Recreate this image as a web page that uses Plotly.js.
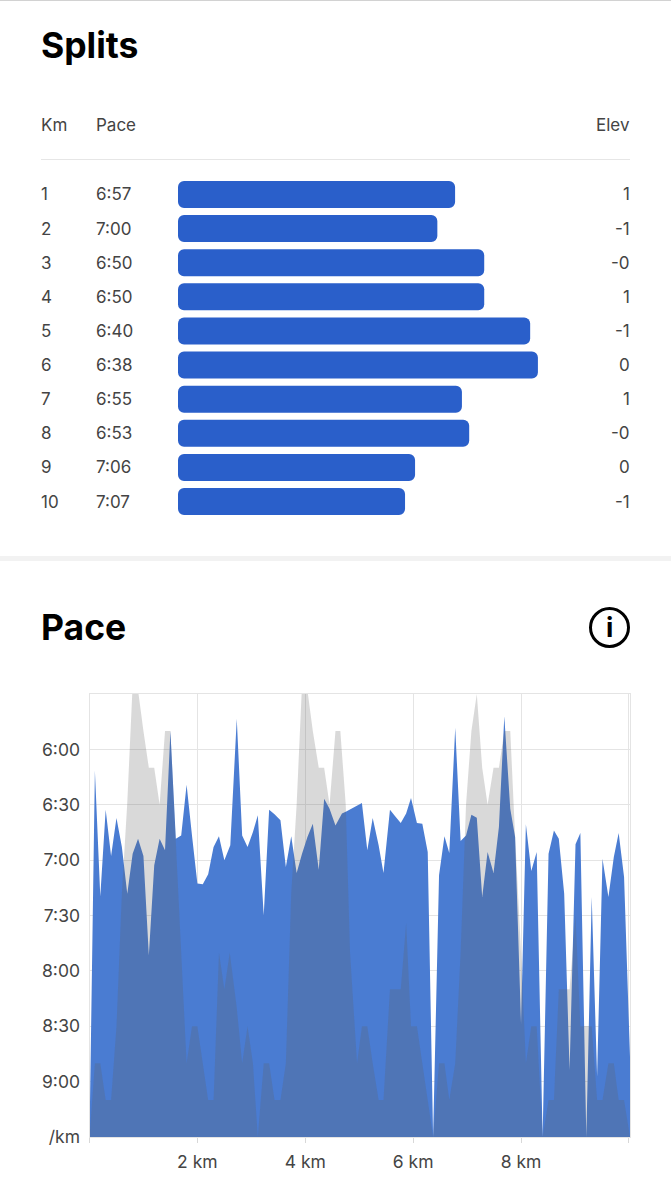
<!DOCTYPE html>
<html>
<head>
<meta charset="utf-8">
<script src="https://cdn.plot.ly/plotly-3.0.1.min.js"></script>
<style>html,body{margin:0;padding:0;background:#fff;overflow:hidden}#c{width:671px;height:1199px}</style>
</head>
<body>
<div id="c"></div>
<script>
// ---- Splits table ----
const splitKm = ['1','2','3','4','5','6','7','8','9','10'];
const splitPace = ['6:57','7:00','6:50','6:50','6:40','6:38','6:55','6:53','7:06','7:07'];
const splitElev = ['1','-1','-0','1','-1','0','1','-0','0','-1'];
// pace of each split in seconds per km
const splitSeconds = [416.1,420.0,409.7,409.7,399.6,397.9,414.6,413.0,424.9,427.1];

// ---- Pace chart ----
const paceKm = [0,.10,.20,.30,.40,.50,.60,.70,.80,.90,1.00,1.10,1.20,1.30,1.40,1.50,1.60,1.70,1.80,1.90,2.00,2.10,2.20,2.30,2.40,2.50,2.61,2.73,2.83,2.93,3.03,3.12,3.23,3.33,3.43,3.54,3.64,3.74,3.84,3.94,4.04,4.14,4.25,4.35,4.45,4.56,4.68,4.76,5.05,5.15,5.25,5.36,5.45,5.57,5.67,5.77,5.87,5.96,6.07,6.17,6.27,6.37,6.48,6.58,6.67,6.78,6.88,6.98,7.08,7.18,7.28,7.38,7.49,7.59,7.69,7.80,7.89,8.00,8.09,8.19,8.29,8.40,8.51,8.61,8.70,8.80,8.90,9.01,9.10,9.21,9.31,9.41,9.51,9.62,9.72,9.81,9.91,10.02,10.02];
const paceSec = [570,371.4,439.6,392.7,417.8,397.2,412.9,438.2,416.5,408.4,417.8,471.6,422.8,408.4,414.7,350.1,408.4,406.6,379.1,406.6,432.7,433.1,427.7,412.9,407.1,420.1,412,343.4,406.6,412.9,404.8,395.7,449.9,392.7,395.2,398.4,423.7,407.1,427,416.5,407.5,400.3,425.2,386.7,392.1,401.2,394.8,393.6,389.1,414.7,397.2,412,427,392.7,396.3,399.9,394.8,386.4,399.9,400.3,415.6,570,428.2,407.1,416.1,348.3,409.6,406.6,395.4,397,440,415.6,427,402,342.1,392.1,407.5,508.6,400.6,425.9,415.6,570,416.5,403.9,408.4,438.2,533.8,411.4,405.3,570,440,537.4,419.2,440,418.3,405.3,429.1,526.6,570];
const elevKm = [0,.10,.20,.30,.40,.50,.60,.70,.80,.90,1.00,1.10,1.20,1.30,1.40,1.50,1.60,1.70,1.80,1.90,2.00,2.10,2.20,2.30,2.40,2.50,2.60,2.73,2.83,2.93,3.03,3.12,3.23,3.33,3.43,3.54,3.64,3.74,3.84,3.94,4.04,4.14,4.25,4.35,4.45,4.56,4.65,4.75,4.83,4.96,5.05,5.15,5.25,5.36,5.45,5.57,5.67,5.77,5.87,5.96,6.07,6.17,6.27,6.37,6.48,6.58,6.67,6.78,6.88,6.98,7.08,7.18,7.28,7.38,7.49,7.59,7.69,7.80,7.89,8.00,8.09,8.19,8.29,8.40,8.51,8.61,8.70,8.80,8.90,9.01,9.10,9.21,9.31,9.41,9.51,9.62,9.72,9.81,9.91,10.02];
const elevLevel = [570,530,530,550,550,510,438,389,325,328,350,370,370,390,350,350,410,470,530,510,510,530,550,550,470,490,470,500,530,510,530,570,530,530,550,550,530,438,390,325,328,350,370,370,390,350,350,390,470,530,510,510,530,550,550,490,490,490,454,510,510,530,550,570,530,530,550,530,470,390,350,330,370,390,370,370,350,350,407,470,530,510,510,570,550,550,490,490,490,450,510,510,510,550,550,530,530,550,550,570];
const paceTickVals = [360,390,420,450,480,510,540,570];
const paceTickText = ['6:00','6:30','7:00','7:30','8:00','8:30','9:00','/km'];
const kmTickVals = [0,2,4,6,8,10];
const kmTickText = ['','2 km','4 km','6 km','8 km',''];

const W = 671, H = 1199;
const px = v => v / W, py = v => 1 - v / H;
const barBlue = '#2a5fca', txt = '#444444';
const tableFont = {family:'Inter, "Noto Sans", sans-serif', size:17, color:txt};
const titleFont = {family:'Inter, sans-serif', size:35.5, color:'#000'};
const tickFont = {family:'Inter, sans-serif', size:17.5, color:txt};

function note(text, x, y, anchor, font, yref) {
  return {text, x:px(x), xref:'paper', y, yref:yref||'paper', xanchor:anchor, yanchor:'middle', showarrow:false, font, borderpad:0};
}
const LEFT1 = 40, LEFT2 = 95, RIGHT = 630.5;
const annotations = [
  note('<b>Splits</b>', LEFT1, py(46), 'left', titleFont),
  note('<b>Pace</b>', LEFT1, py(627), 'left', titleFont),
  note('Km', LEFT1, py(125), 'left', tableFont),
  note('Pace', LEFT2, py(125), 'left', tableFont),
  note('Elev', RIGHT, py(125), 'right', tableFont),
  {text:'<b>i</b>', x:px(609.5), y:py(627.5), xref:'paper', yref:'paper', xanchor:'center', yanchor:'middle', showarrow:false,
   font:{family:'Inter, sans-serif', size:27, color:'#000'}}
];
splitKm.forEach((k,i) => {
  annotations.push(note(k, LEFT1, i+1, 'left', tableFont, 'y2'));
  annotations.push(note(splitPace[i], LEFT2, i+1, 'left', tableFont, 'y2'));
  annotations.push(note(splitElev[i], RIGHT, i+1, 'right', tableFont, 'y2'));
});

const shapes = [
  {type:'rect', xref:'paper', yref:'paper', x0:0, x1:1, y0:py(0), y1:py(1), fillcolor:'#d2d2d2', line:{width:0}},
  {type:'line', xref:'paper', yref:'paper', x0:px(41), x1:px(630), y0:py(159.5), y1:py(159.5), line:{color:'#e6e6e6', width:1}},
  {type:'rect', xref:'paper', yref:'paper', x0:0, x1:1, y0:py(556), y1:py(561), fillcolor:'#f2f2f2', line:{width:0}},
  {type:'circle', xref:'paper', yref:'paper', x0:px(590.5), x1:px(628.5), y0:py(646.5), y1:py(608.5), line:{color:'#000', width:3}}
];

const BASE = 477;
const rows = splitKm.map(Number);
const data = [
  {type:'scatter', x:paceKm, y:paceSec, mode:'lines', fill:'toself', fillcolor:'#4a7cd2', line:{width:0, simplify:false}, hoverinfo:'skip', showlegend:false, xaxis:'x', yaxis:'y'},
  {type:'scatter', x:elevKm, y:elevLevel, mode:'lines', fill:'toself', fillcolor:'rgba(95,95,95,0.24)', line:{width:0, simplify:false}, hoverinfo:'skip', showlegend:false, xaxis:'x', yaxis:'y'},
  {type:'bar', orientation:'h', x:splitSeconds.map(v => v - BASE), base:BASE, y:rows, marker:{color:barBlue, line:{width:0}}, hoverinfo:'skip', showlegend:false, xaxis:'x2', yaxis:'y2'}
];

const layout = {
  width:W, height:H, autosize:false, margin:{l:0,r:0,t:0,b:0,pad:0},
  paper_bgcolor:'#fff', plot_bgcolor:'#fff', showlegend:false,
  bargap:0.208, barcornerradius:6,
  xaxis:{domain:[px(89.5),px(630)], anchor:'y', range:[0,10.02], tickmode:'array', tickvals:kmTickVals, ticktext:kmTickText,
    ticks:'outside', ticklen:5, tickcolor:'#d8d8d8', tickwidth:1, showgrid:true, gridcolor:'#e4e4e4', zeroline:false,
    showline:true, linecolor:'#e4e4e4', mirror:true, tickfont:tickFont, ticklabelstandoff:4},
  yaxis:{domain:[py(1137),py(694)], anchor:'x', range:[570,330], tickmode:'array', tickvals:paceTickVals, ticktext:paceTickText,
    ticks:'', showgrid:true, gridcolor:'#e4e4e4', zeroline:false, showline:true, linecolor:'#e4e4e4', mirror:true,
    tickfont:tickFont, ticklabelstandoff:5},
  xaxis2:{domain:[px(178),px(630)], anchor:'y2', range:[BASE, BASE-452/4.55], visible:false, fixedrange:true},
  yaxis2:{domain:[py(518.6),py(177.4)], anchor:'x2', range:[10.5,0.5], visible:false, fixedrange:true},
  annotations, shapes
};
Plotly.newPlot('c', data, layout, {displayModeBar:false, staticPlot:true});
</script>
</body>
</html>
